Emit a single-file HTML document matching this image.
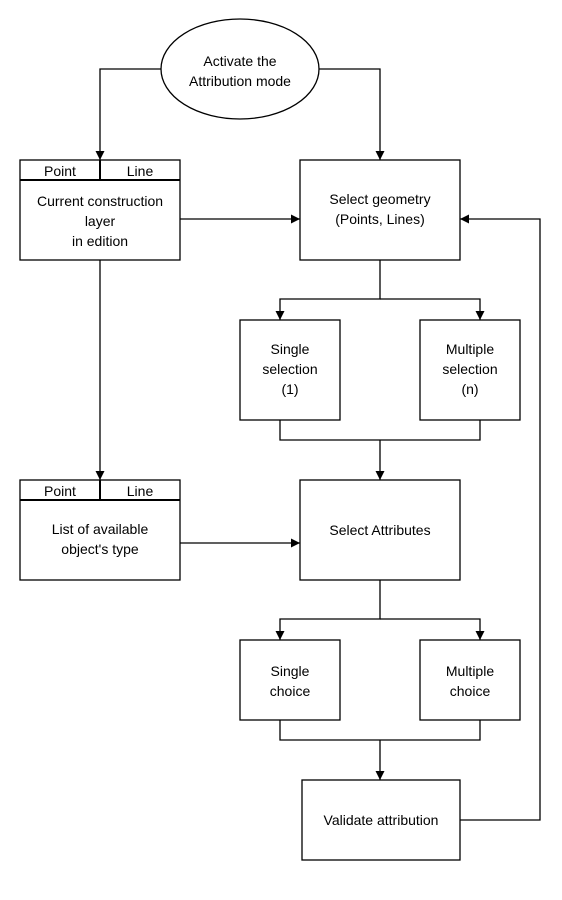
<!DOCTYPE html>
<html><head><meta charset="utf-8"><style>body{margin:0;background:#fff}svg{display:block}</style></head><body>
<svg width="562" height="900" viewBox="0 0 562 900" xmlns="http://www.w3.org/2000/svg" font-family="Liberation Sans, sans-serif" font-size="14" text-anchor="middle">
<defs><marker id="a" viewBox="0 0 10 10" refX="10" refY="5" markerWidth="9" markerHeight="9" markerUnits="userSpaceOnUse" orient="auto"><path d="M0,0L10,5L0,10z" fill="#000"/></marker></defs>
<g fill="none" stroke="#000" stroke-width="1.3">
<ellipse cx="240" cy="69" rx="79" ry="50" fill="#fff"/>
<rect x="20" y="160" width="160" height="100"/><line x1="20" y1="180" x2="180" y2="180" stroke-width="2"/><line x1="100" y1="160" x2="100" y2="180" stroke-width="2"/>
<rect x="300" y="160" width="160" height="100"/>
<rect x="240" y="320" width="100" height="100"/>
<rect x="420" y="320" width="100" height="100"/>
<rect x="20" y="480" width="160" height="100"/><line x1="20" y1="500" x2="180" y2="500" stroke-width="2"/><line x1="100" y1="480" x2="100" y2="500" stroke-width="2"/>
<rect x="300" y="480" width="160" height="100"/>
<rect x="240" y="640" width="100" height="80"/>
<rect x="420" y="640" width="100" height="80"/>
<rect x="302" y="780" width="158" height="80"/>
<path d="M161,69H100V160" marker-end="url(#a)"/>
<path d="M319,69H380V160" marker-end="url(#a)"/>
<path d="M180,219H300" marker-end="url(#a)"/>
<path d="M100,260V480" marker-end="url(#a)"/>
<path d="M180,543H300" marker-end="url(#a)"/>
<path d="M380,260V299H280V320" marker-end="url(#a)"/>
<path d="M380,299H480V320" marker-end="url(#a)"/>
<path d="M280,420V440H480V420M380,440V480" marker-end="url(#a)"/>
<path d="M380,580V619H280V640" marker-end="url(#a)"/>
<path d="M380,619H480V640" marker-end="url(#a)"/>
<path d="M280,720V740H480V720M380,740V780" marker-end="url(#a)"/>
<path d="M460,820H540V219H460" marker-end="url(#a)"/>
</g>
<g fill="#000">
<text x="240" y="66">Activate the</text><text x="240" y="86">Attribution mode</text>
<text x="60" y="176">Point</text><text x="140" y="176">Line</text>
<text x="100" y="206">Current construction</text><text x="100" y="226">layer</text><text x="100" y="246">in edition</text>
<text x="380" y="204">Select geometry</text><text x="380" y="224">(Points, Lines)</text>
<text x="290" y="354">Single</text><text x="290" y="374">selection</text><text x="290" y="394">(1)</text>
<text x="470" y="354">Multiple</text><text x="470" y="374">selection</text><text x="470" y="394">(n)</text>
<text x="60" y="496">Point</text><text x="140" y="496">Line</text>
<text x="100" y="534">List of available</text><text x="100" y="554">object's type</text>
<text x="380" y="535">Select Attributes</text>
<text x="290" y="676">Single</text><text x="290" y="696">choice</text>
<text x="470" y="676">Multiple</text><text x="470" y="696">choice</text>
<text x="381" y="825">Validate attribution</text>
</g>
</svg>
</body></html>
